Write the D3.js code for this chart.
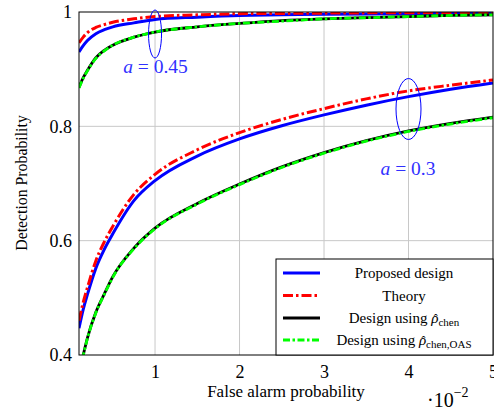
<!DOCTYPE html>
<html>
  <head>
    <script src="https://d3js.org/d3.v7.min.js"></script>
    <style>
      body { margin: 0; background: #fff; }
      text { font-family: "Liberation Serif", "DejaVu Serif", serif; }
    </style>
  </head>
  <body>
    <svg id="chart" width="494" height="415"></svg>
    <script>
      // false alarm probability (x 10^-2)
      const xs = [0.1, 0.15, 0.2, 0.3, 0.4, 0.5, 0.75, 1, 1.5, 2, 2.5, 3, 3.5, 4, 4.5, 5];

      // a = 0.45
      const proposed45 = [0.930, 0.941, 0.950, 0.962, 0.969, 0.974, 0.981, 0.987, 0.991, 0.994, 0.995, 0.996, 0.9965, 0.997, 0.9975, 0.998];
      const theory45   = [0.946, 0.956, 0.964, 0.973, 0.978, 0.982, 0.988, 0.992, 0.995, 0.997, 0.9975, 0.998, 0.9985, 0.9988, 0.999, 0.999];
      const chen45     = [0.868, 0.885, 0.898, 0.920, 0.933, 0.942, 0.956, 0.965, 0.974, 0.980, 0.985, 0.988, 0.990, 0.992, 0.994, 0.995];
      const oas45      = [0.867, 0.884, 0.897, 0.919, 0.932, 0.942, 0.956, 0.965, 0.974, 0.980, 0.984, 0.988, 0.990, 0.992, 0.994, 0.995];

      // a = 0.3
      const proposed30 = [0.447, 0.480, 0.506, 0.552, 0.585, 0.612, 0.670, 0.705, 0.748, 0.778, 0.801, 0.820, 0.837, 0.852, 0.865, 0.876];
      const theory30   = [0.460, 0.492, 0.518, 0.565, 0.598, 0.625, 0.681, 0.716, 0.759, 0.789, 0.812, 0.831, 0.848, 0.862, 0.872, 0.881];
      const chen30     = [0.370, 0.400, 0.430, 0.475, 0.507, 0.537, 0.587, 0.622, 0.665, 0.699, 0.729, 0.754, 0.775, 0.792, 0.805, 0.816];
      const oas30      = [0.368, 0.399, 0.429, 0.474, 0.506, 0.536, 0.586, 0.621, 0.664, 0.698, 0.728, 0.753, 0.774, 0.791, 0.804, 0.815];

      const xTicks = [1, 2, 3, 4, 5];
      const yTicks = [0.4, 0.6, 0.8, 1];

      const legendNames = ["Proposed design", "Theory", "Design using", "Design using"];
      const legendSubs = [null, null, "chen", "chen,OAS"];

      let svg = d3.select("#chart");
      let plotL = 79, plotT = 12, plotR = 493, plotB = 355;

      let xScale = d3.scaleLinear().domain([0.1, 5]).range([plotL, plotR]);
      let yScale = d3.scaleLinear().domain([0.4, 1]).range([plotB, plotT]);

      svg.append("defs").append("clipPath").attr("id", "plotClip")
        .append("rect")
        .attr("x", plotL).attr("y", plotT)
        .attr("width", plotR - plotL).attr("height", plotB - plotT);

      // grid
      let grid = svg.append("g");
      grid.selectAll("line.vg").data(xTicks.filter(d => d < 5))
        .join("line")
        .attr("x1", d => xScale(d)).attr("x2", d => xScale(d))
        .attr("y1", plotT).attr("y2", plotB)
        .attr("stroke", "#c8c8c8").attr("stroke-width", 1);
      grid.selectAll("line.hg").data(yTicks.filter(d => d > 0.4 && d < 1))
        .join("line")
        .attr("x1", plotL).attr("x2", plotR)
        .attr("y1", d => yScale(d)).attr("y2", d => yScale(d))
        .attr("stroke", "#c8c8c8").attr("stroke-width", 1);

      // axes (labels only, frame drawn separately)
      let xAxis = d3.axisBottom(xScale).tickValues(xTicks).tickSize(0).tickPadding(10).tickFormat(d3.format("d"));
      let yAxis = d3.axisLeft(yScale).tickValues(yTicks).tickSize(0).tickPadding(7).tickFormat(d => d == 1 ? "1" : d3.format(".1f")(d));

      let gx = svg.append("g").attr("transform", `translate(0,${plotB})`).call(xAxis);
      let gy = svg.append("g").attr("transform", `translate(${plotL},0)`).call(yAxis);
      [gx, gy].forEach(g => {
        g.select(".domain").remove();
        g.selectAll("text").style("font-family", "'Liberation Serif', serif").attr("font-size", 18).attr("fill", "#000");
      });

      let curves = svg.append("g").attr("clip-path", "url(#plotClip)");
      let line = d3.line().x((d, i) => xScale(xs[i])).y(d => yScale(d)).curve(d3.curveMonotoneX);

      function drawSeries(vals, color, width, dash) {
        curves.append("path")
          .attr("d", line(vals))
          .attr("fill", "none")
          .attr("stroke", color)
          .attr("stroke-width", width)
          .attr("stroke-dasharray", dash);
      }

      drawSeries(proposed45, "#0000ff", 3, null);
      drawSeries(theory45, "#ff0000", 3, "10,3,2.5,3");
      drawSeries(chen45, "#000000", 2.8, null);
      drawSeries(oas45, "#00ff00", 2.8, "7,2.5,2.5,2.5");

      drawSeries(proposed30, "#0000ff", 3, null);
      drawSeries(theory30, "#ff0000", 3, "10,3,2.5,3");
      drawSeries(chen30, "#000000", 2.8, null);
      drawSeries(oas30, "#00ff00", 2.8, "7,2.5,2.5,2.5");

      // frame
      svg.append("rect")
        .attr("x", plotL).attr("y", plotT)
        .attr("width", plotR - plotL).attr("height", plotB - plotT)
        .attr("fill", "none").attr("stroke", "#000").attr("stroke-width", 1);

      // ellipses + labels
      let note = svg.append("g");
      note.append("ellipse")
        .attr("cx", xScale(1)).attr("cy", 34).attr("rx", 6.5).attr("ry", 24)
        .attr("fill", "none").attr("stroke", "#0000ff").attr("stroke-width", 1);
      note.append("ellipse")
        .attr("cx", xScale(4)).attr("cy", 109).attr("rx", 12.5).attr("ry", 30.5)
        .attr("fill", "none").attr("stroke", "#0000ff").attr("stroke-width", 1);

      let lab1 = note.append("text").attr("x", 155.5).attr("y", 73).attr("text-anchor", "middle")
        .attr("font-size", 19.5).attr("fill", "#3030ff");
      lab1.append("tspan").attr("font-style", "italic").text("a");
      lab1.append("tspan").text(" = 0.45");

      let lab2 = note.append("text").attr("x", 408).attr("y", 175).attr("text-anchor", "middle")
        .attr("font-size", 19.5).attr("fill", "#3030ff");
      lab2.append("tspan").attr("font-style", "italic").text("a");
      lab2.append("tspan").text(" = 0.3");

      // axis titles
      svg.append("text")
        .attr("x", 286).attr("y", 397).attr("text-anchor", "middle")
        .attr("font-size", 17).text("False alarm probability");

      svg.append("text")
        .attr("transform", "translate(27,183) rotate(-90)")
        .attr("text-anchor", "middle")
        .attr("font-size", 15.8).text("Detection Probability");

      let mult = svg.append("text").attr("x", 427).attr("y", 407).attr("font-size", 20);
      mult.append("tspan").text("·10");
      mult.append("tspan").attr("dy", -10).attr("font-size", 14).text("−2");

      // legend
      let legend = svg.append("g");
      legend.append("rect")
        .attr("x", 276).attr("y", 259).attr("width", plotR - 276).attr("height", plotB - 259)
        .attr("fill", "#fff").attr("stroke", "#000").attr("stroke-width", 1);

      let legendStyles = [
        { color: "#0000ff", dash: null },
        { color: "#ff0000", dash: "10,3,2.5,3" },
        { color: "#000000", dash: null },
        { color: "#00ff00", dash: "7,2.5,2.5,2.5" }
      ];
      let rowY = [273, 295.5, 318, 340];

      legendNames.forEach((name, i) => {
        legend.append("line")
          .attr("x1", 283).attr("x2", 320)
          .attr("y1", rowY[i]).attr("y2", rowY[i])
          .attr("stroke", legendStyles[i].color)
          .attr("stroke-width", 3)
          .attr("stroke-dasharray", legendStyles[i].dash);
        let t = legend.append("text")
          .attr("x", 404).attr("y", rowY[i] + 5)
          .attr("text-anchor", "middle").attr("font-size", 15);
        t.append("tspan").text(name + " ");
        if (legendSubs[i]) {
          t.append("tspan").attr("font-style", "italic").text("ρ");
          t.append("tspan").attr("dy", 3).attr("font-size", 11).text(legendSubs[i]);
          // hat over rho, sitting just above its x-height
          let idx = name.length + 1;
          let ext = t.node().getExtentOfChar(idx);
          legend.append("text")
            .attr("x", ext.x + ext.width / 2 + 1).attr("y", rowY[i] + 5)
            .attr("text-anchor", "middle").attr("font-size", 12)
            .text("ˆ");
        }
      });
    </script>
  </body>
</html>
